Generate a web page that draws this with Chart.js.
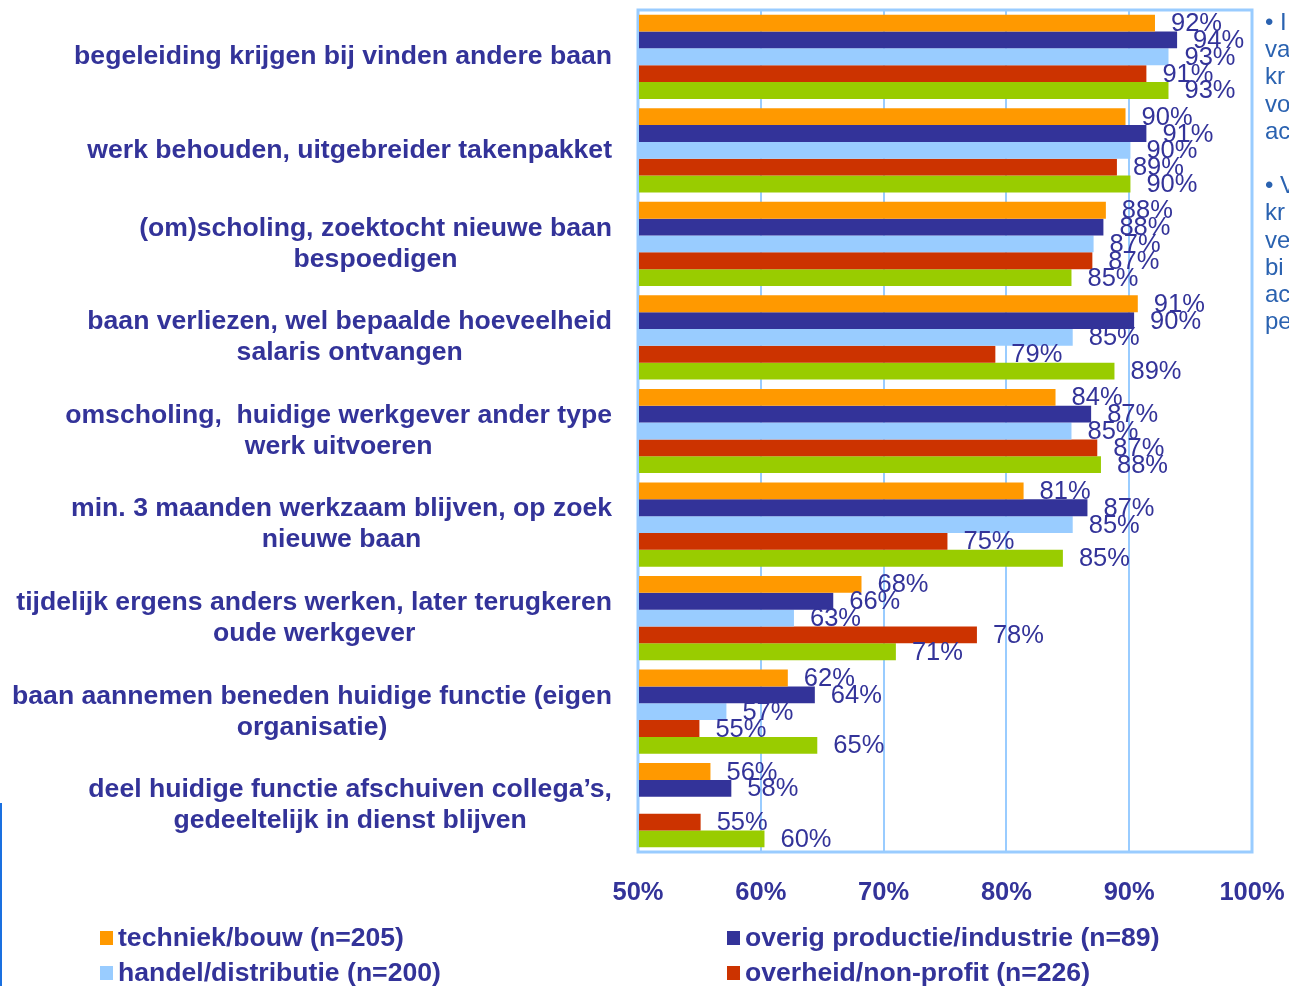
<!DOCTYPE html>
<html>
<head>
<meta charset="utf-8">
<script src="https://cdn.jsdelivr.net/npm/chart.js@4.4.1/dist/chart.umd.min.js"></script>
<style>
    html, body { margin: 0; padding: 0; background: #fff; overflow: hidden; }
    #wrap { position: relative; width: 1289px; height: 986px; }
    #chart { position: absolute; left: 0; top: 0; }
    .legend-item {
        position: absolute;
        font: bold 26.6px "Liberation Sans", Arial, sans-serif;
        color: #333399;
        white-space: nowrap;
        line-height: 30px;
    }
    .legend-item span {
        display: inline-block;
        width: 13px;
        height: 14px;
        margin-right: 5px;
        vertical-align: 1px;
    }
    #side {
        position: absolute;
        left: 1265px;
        top: 8px;
        font: 24px "Liberation Sans", Arial, sans-serif;
        color: #2a62b0;
        line-height: 27.2px;
        white-space: pre;
    }
    #edge {
        position: absolute;
        left: 0;
        top: 803px;
        width: 2px;
        height: 183px;
        background: #1a70e0;
    }
</style>
</head>
<body>
<div id="wrap">
    <canvas id="chart" width="1289" height="986"></canvas>
    <div id="legend"></div>
    <div id="side"></div>
    <div id="edge"></div>
</div>
<script>
// Categorieën (y-as)
const categories = [
    ['begeleiding krijgen bij vinden andere baan'],
    ['werk behouden, uitgebreider takenpakket'],
    ['(om)scholing, zoektocht nieuwe baan', 'bespoedigen'],
    ['baan verliezen, wel bepaalde hoeveelheid', 'salaris ontvangen'],
    ['omscholing,  huidige werkgever ander type', 'werk uitvoeren'],
    ['min. 3 maanden werkzaam blijven, op zoek', 'nieuwe baan'],
    ['tijdelijk ergens anders werken, later terugkeren', 'oude werkgever'],
    ['baan aannemen beneden huidige functie (eigen', 'organisatie)'],
    ['deel huidige functie afschuiven collega\u2019s,', 'gedeeltelijk in dienst blijven']
];

// Reeksen (percentages)
const techniekBouw = [92.1, 89.7, 88.1, 90.7, 84.0, 81.4, 68.2, 62.2, 55.9];
const overigProductie = [93.9, 91.4, 87.9, 90.4, 86.9, 86.6, 65.9, 64.4, 57.6];
const handelDistributie = [93.2, 90.1, 87.1, 85.4, 85.3, 85.4, 62.7, 57.2, null];
const overheidNonProfit = [91.4, 89.0, 87.0, 79.1, 87.4, 75.2, 77.6, 55.0, 55.1];
const vijfdeReeks = [93.2, 90.1, 85.3, 88.8, 87.7, 84.6, 71.0, 64.6, 60.3];

// Labels van de reeksen (de vijfde valt buiten beeld)
const seriesLabels = [
    'techniek/bouw (n=205)',
    'overig productie/industrie (n=89)',
    'handel/distributie (n=200)',
    'overheid/non-profit (n=226)',
    ''
];

// X-as
const xTicks = [50, 60, 70, 80, 90, 100];

// Tekst rechts (afgesneden)
const sideLines = ['\u2022 I', 'va', 'kr', 'vo', 'ac', '', '\u2022 V', 'kr', 've', 'bi', 'ac', 'pe'];

const colors = ['#FF9900', '#333399', '#99CCFF', '#CC3300', '#99CC00'];
const textColor = '#333399';
const gridColor = '#99CCFF';
const fontFamily = '"Liberation Sans", Arial, sans-serif';

const seriesData = [techniekBouw, overigProductie, handelDistributie, overheidNonProfit, vijfdeReeks];

// Kader rond plotgebied
const frame = {
    id: 'frame',
    beforeDatasetsDraw(chart) {
        const a = chart.chartArea;
        const ctx = chart.ctx;
        ctx.save();
        ctx.strokeStyle = gridColor;
        ctx.lineWidth = 3;
        ctx.strokeRect(a.left, a.top, a.right - a.left, a.bottom - a.top);
        ctx.restore();
    }
};

// Categorielabels: rechts uitgelijnd blok, regels gecentreerd
const categoryLabels = {
    id: 'categoryLabels',
    afterDraw(chart) {
        const ctx = chart.ctx;
        const y = chart.scales.y;
        const right = chart.chartArea.left - 26;
        const lineH = 31;
        ctx.save();
        ctx.font = 'bold 26.6px ' + fontFamily;
        ctx.fillStyle = textColor;
        ctx.textAlign = 'center';
        ctx.textBaseline = 'middle';
        categories.forEach((lines, i) => {
            const maxW = Math.max(...lines.map(l => ctx.measureText(l).width));
            const cx = right - maxW / 2;
            const cy = y.getPixelForTick(i);
            const top = cy - (lines.length - 1) * lineH / 2;
            lines.forEach((l, j) => ctx.fillText(l, cx, top + j * lineH));
        });
        ctx.restore();
    }
};

// Waardelabels achter de balken
const valueLabels = {
    id: 'valueLabels',
    afterDatasetsDraw(chart) {
        const ctx = chart.ctx;
        ctx.save();
        ctx.font = '25.5px ' + fontFamily;
        ctx.fillStyle = textColor;
        ctx.textAlign = 'left';
        ctx.textBaseline = 'middle';
        chart.data.datasets.forEach((ds, di) => {
            const meta = chart.getDatasetMeta(di);
            meta.data.forEach((bar, i) => {
                const v = ds.data[i];
                if (v === null || v === undefined) return;
                ctx.fillText(Math.round(v) + '%', bar.x + 16, bar.y + 1);
            });
        });
        ctx.restore();
    }
};

const chart = new Chart(document.getElementById('chart'), {
    type: 'bar',
    data: {
        labels: categories.map(c => c.join(' ')),
        datasets: seriesData.map((d, i) => ({
            label: seriesLabels[i],
            data: d,
            backgroundColor: colors[i],
            borderWidth: 0,
            base: xTicks[0],
            categoryPercentage: 0.9,
            barPercentage: 1.0
        }))
    },
    options: {
        indexAxis: 'y',
        responsive: false,
        animation: false,
        layout: {
            padding: { top: 10, right: 37, left: 0, bottom: 0 }
        },
        plugins: {
            legend: { display: false },
            tooltip: { enabled: false }
        },
        scales: {
            x: {
                min: xTicks[0],
                max: xTicks[xTicks.length - 1],
                afterBuildTicks: (scale) => {
                    scale.ticks = xTicks.map(v => ({ value: v }));
                },
                afterFit: (scale) => {
                    scale.height = 134;
                    scale.paddingLeft = 0;
                    scale.paddingRight = 0;
                },
                grid: {
                    color: gridColor,
                    lineWidth: 2,
                    drawTicks: false
                },
                border: { display: false },
                ticks: {
                    padding: 26,
                    color: textColor,
                    font: { family: fontFamily, size: 25.5, weight: 'bold' },
                    callback: (v) => v + '%'
                }
            },
            y: {
                afterFit: (scale) => { scale.width = 638; },
                grid: { display: false },
                border: { display: false },
                ticks: { display: false }
            }
        }
    },
    plugins: [frame, valueLabels, categoryLabels]
});

// Legenda (alleen de vier zichtbare reeksen)
const legendPos = [
    { left: 100, top: 922 },
    { left: 727, top: 922 },
    { left: 100, top: 957 },
    { left: 727, top: 957 }
];
const legend = document.getElementById('legend');
legendPos.forEach((p, i) => {
    const item = document.createElement('div');
    item.className = 'legend-item';
    item.style.left = p.left + 'px';
    item.style.top = p.top + 'px';
    item.innerHTML = '<span style="background:' + colors[i] + '"></span>' + seriesLabels[i];
    legend.appendChild(item);
});

document.getElementById('side').textContent = sideLines.join('\n');
</script>
</body>
</html>
